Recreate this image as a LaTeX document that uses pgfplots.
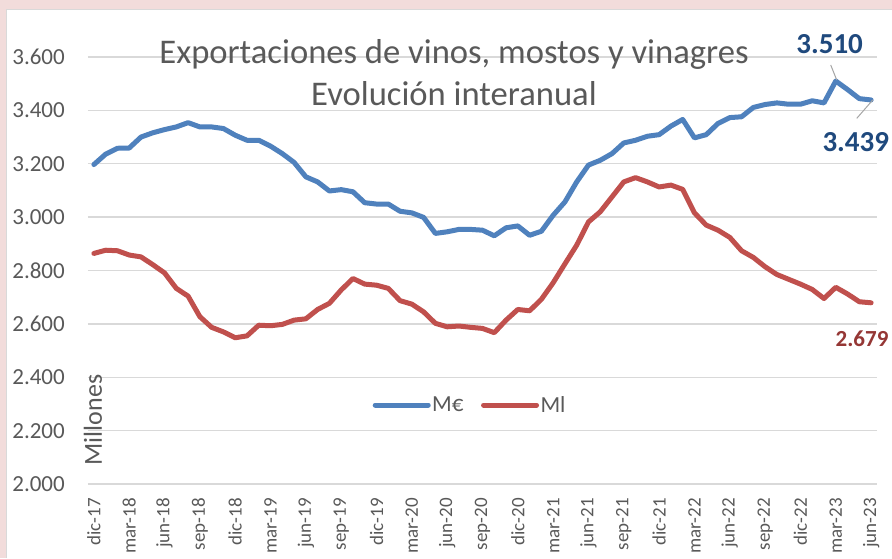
\documentclass[border=0pt]{standalone}
\usepackage{fontspec}
\setmainfont{Carlito}
\usepackage{pgfplots}
\pgfplotsset{compat=1.18}
\usepackage{pgfplotstable}

\definecolor{bg}{HTML}{F2DCDB}
\definecolor{euro}{HTML}{4F81BD}
\definecolor{litro}{HTML}{C0504D}
\definecolor{txt}{HTML}{595959}
\definecolor{gridc}{HTML}{D9D9D9}
\definecolor{lblblue}{HTML}{1F497D}
\definecolor{lblred}{HTML}{953735}

\pgfplotstableread{
i eur ml
0 3197 2864
1 3236 2876
2 3258 2874
3 3259 2858
4 3300 2851
5 3316 2822
6 3328 2791
7 3338 2733
8 3354 2704
9 3338 2627
10 3338 2587
11 3332 2570
12 3307 2548
13 3288 2555
14 3288 2595
15 3266 2593
16 3238 2598
17 3205 2614
18 3151 2619
19 3132 2654
20 3098 2677
21 3103 2727
22 3095 2770
23 3054 2749
24 3049 2745
25 3049 2733
26 3022 2687
27 3016 2674
28 2999 2645
29 2939 2602
30 2945 2589
31 2954 2592
32 2954 2587
33 2951 2583
34 2930 2567
35 2960 2614
36 2967 2654
37 2932 2649
38 2947 2692
39 3007 2754
40 3057 2825
41 3132 2895
42 3195 2982
43 3213 3020
44 3238 3076
45 3278 3132
46 3288 3148
47 3303 3132
48 3309 3113
49 3341 3120
50 3366 3104
51 3297 3016
52 3309 2970
53 3351 2951
54 3373 2924
55 3376 2874
56 3411 2849
57 3422 2814
58 3428 2785
59 3423 2767
60 3423 2749
61 3436 2729
62 3428 2695
63 3510 2737
64 3478 2712
65 3444 2683
66 3439 2679
}\datatable

\begin{document}
\begin{tikzpicture}[x=1pt,y=1pt]
\fill[bg] (0,0) rectangle (892,558);
\fill[white] (6.5,0) rectangle (892,548);
\draw[gridc, line width=1pt] (6.5,0) -- (6.5,548) -- (892,548);
\begin{axis}[
  at={(88pt,74pt)}, anchor=south west,
  scale only axis, width=789pt, height=427pt,
  xmin=-0.5, xmax=66.5, ymin=2000, ymax=3600,
  ytick={2000,2200,2400,2600,2800,3000,3200,3400,3600},
  yticklabels={2.000,2.200,2.400,2.600,2.800,3.000,3.200,3.400,3.600},
  xtick={0,3,...,66},
  xticklabels={dic-17,mar-18,jun-18,sep-18,dic-18,mar-19,jun-19,sep-19,dic-19,mar-20,jun-20,sep-20,dic-20,mar-21,jun-21,sep-21,dic-21,mar-22,jun-22,sep-22,dic-22,mar-23,jun-23},
  axis line style={draw=none},
  major tick length=0pt,
  ymajorgrids,
  grid style={gridc, line width=1.3pt},
  /pgf/number format/assume math mode=true,
  tick label style={text=txt},
  yticklabel style={font=\fontsize{23}{23}\selectfont, inner sep=0pt, anchor=east},
  yticklabel shift=23pt,
  xticklabel style={font=\fontsize{19}{19}\selectfont, rotate=90, anchor=east, inner sep=0pt},
  xticklabel shift=14pt,
  clip=false,
  legend columns=2,
  legend style={at={(0.484,0.185)}, anchor=center, draw=none, fill=none,
    font=\fontsize{23}{23}\selectfont, text=txt,
    nodes={inner sep=1.5pt},
    /tikz/every even column/.append style={column sep=16pt}},
  legend image code/.code={\draw[#1, line cap=round] (0pt,0pt) -- (53pt,0pt);},
]
\addplot[euro, line width=5pt, line join=round, line cap=round] table[x=i,y=eur] {\datatable};
\addlegendentry{M€}
\addplot[litro, line width=5pt, line join=round, line cap=round] table[x=i,y=ml] {\datatable};
\addlegendentry{Ml}

\node[txt, rotate=90, font=\fontsize{26}{26}\selectfont] at (axis cs:-0.07,2240) {Millones};
\draw[gray!70, line width=1pt] (axis cs:62.57,3570) -- (axis cs:63.08,3514);
\draw[gray!70, line width=1pt] (axis cs:66.14,3439) -- (axis cs:64.78,3370);
\node[lblblue, font=\bfseries\fontsize{29}{29}\selectfont] at (axis cs:62.48,3649) {3.510};
\node[lblblue, font=\bfseries\fontsize{29}{29}\selectfont] at (axis cs:64.7,3283) {3.439};
\node[lblred, font=\bfseries\fontsize{23}{23}\selectfont] at (axis cs:65.23,2546) {2.679};
\end{axis}
\node[txt, font=\fontsize{34.6}{34.6}\selectfont, anchor=base, inner sep=0pt] at (454,494.7) {Exportaciones de vinos, mostos y vinagres};
\node[txt, font=\fontsize{34.6}{34.6}\selectfont, anchor=base, inner sep=0pt] at (454,452) {Evolución interanual};
\pgfresetboundingbox
\path[use as bounding box] (0,0) rectangle (892,558);
\end{tikzpicture}
\end{document}
